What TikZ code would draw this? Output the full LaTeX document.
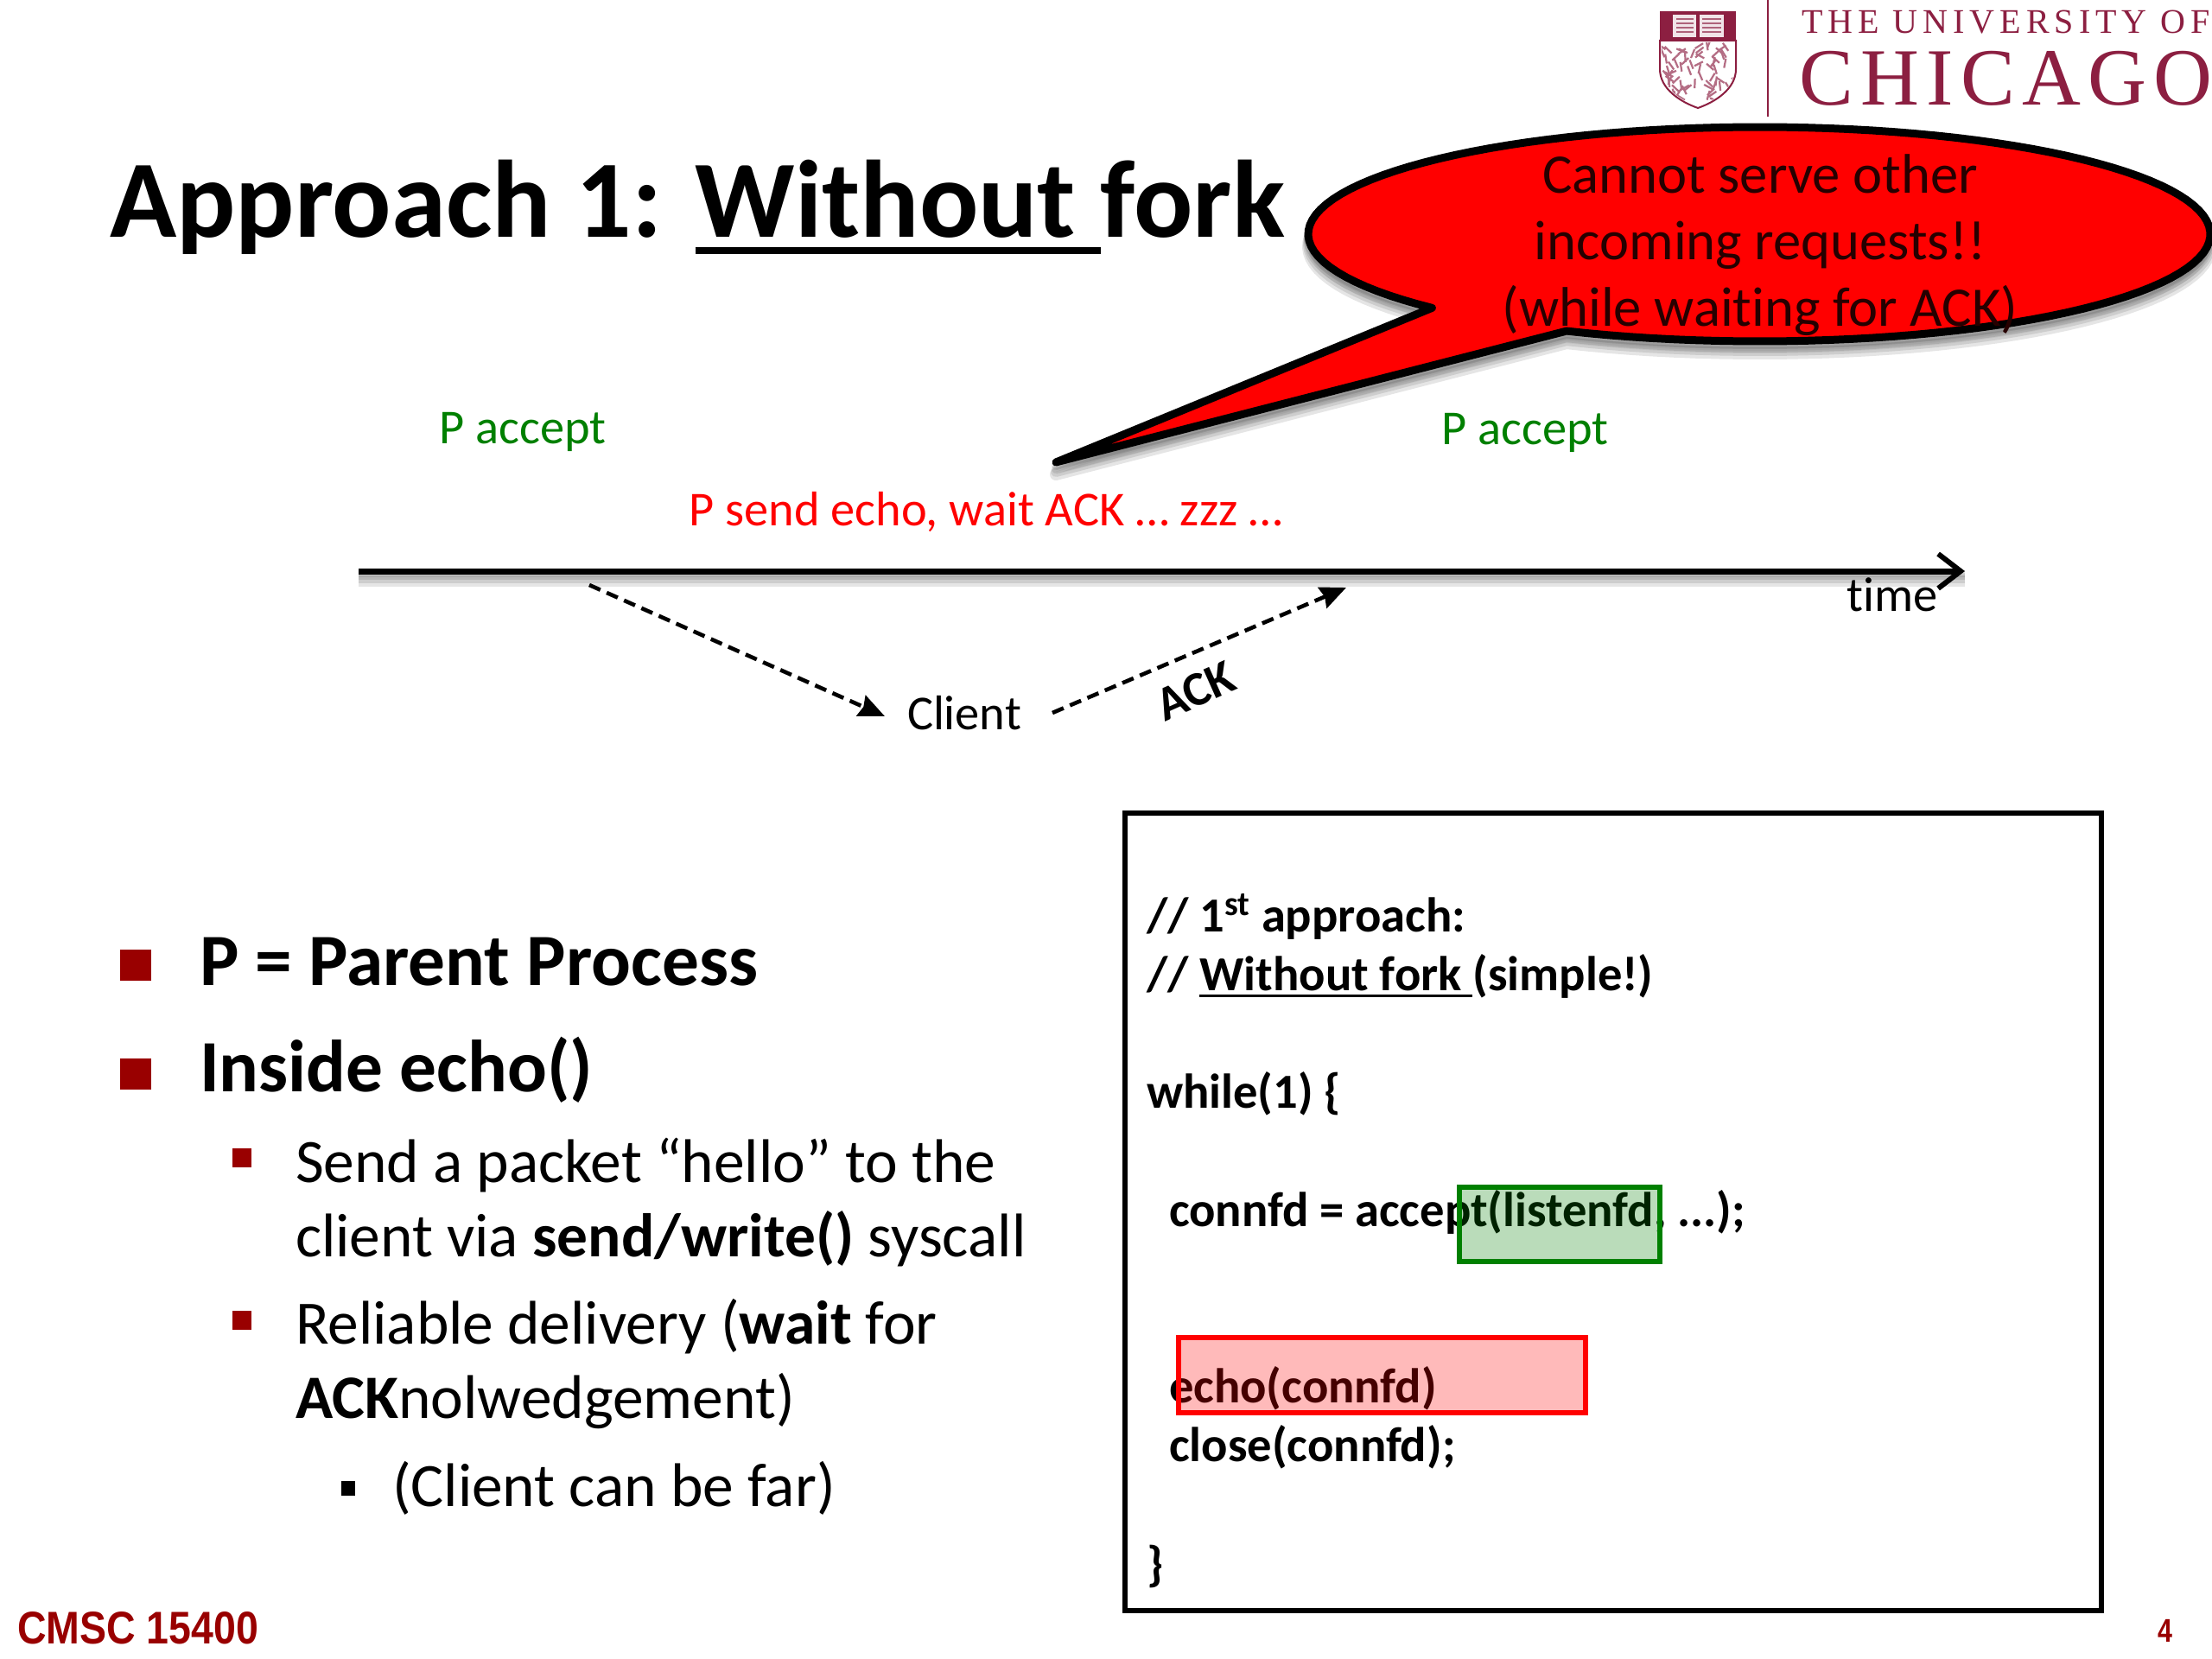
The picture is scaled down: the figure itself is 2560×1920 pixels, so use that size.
\documentclass[tikz,border=0pt]{standalone}
\usepackage{fontspec}
\setmainfont{Carlito}[Ligatures={TeX,NoCommon}]
\newfontfamily\logofont[LetterSpace=15]{Liberation Serif}
\newfontfamily\logobigfont[LetterSpace=9]{Liberation Serif}
\newfontfamily\slidefont{Liberation Sans}
\usetikzlibrary{arrows.meta}
\definecolor{maroonx}{HTML}{8C1F41}
\definecolor{slidered}{HTML}{990000}
\definecolor{okgreen}{HTML}{008000}
\newcommand\ulfix[3]{\leavevmode\setbox0\hbox{#1}\rlap{\rule[#2]{\wd0}{#3}}\box0\relax}
\tikzset{
  txt/.style={anchor=base west,inner sep=0pt,outer sep=0pt},
  ctr/.style={anchor=base,inner sep=0pt,outer sep=0pt},
  titletxt/.style={txt,font=\fontsize{63.7}{68}\selectfont\bfseries},
  maintxt/.style={txt,font=\fontsize{42.7}{48}\selectfont\bfseries},
  subtxt/.style={txt,font=\fontsize{35.7}{42}\selectfont},
  codetxt/.style={txt,font=\fontsize{28.3}{32}\selectfont\bfseries},
  tltxt/.style={ctr,font=\fontsize{28.2}{32}\selectfont},
  calltxt/.style={ctr,font=\fontsize{32.3}{36}\selectfont,text=black!85!red},
  dashline/.style={line width=2.3pt,dash pattern=on 7pt off 4pt,-{Stealth[length=15pt,width=13pt,inset=1.5pt]}},
  shadowstroke/.style={black,opacity=.10},
}
\begin{document}
\begin{tikzpicture}[x=0.5pt,y=-0.5pt]
\path[use as bounding box] (0,0) rectangle (2560,1920);
\clip (0,0) rectangle (2560,1920);
\fill[white] (0,0) rectangle (2560,1920);

% --- logo ---
\fill[maroonx] (1921,13) rectangle (2009,47);
\fill[white!88!maroonx] (1936,17) rectangle (1963,43);
\fill[white!88!maroonx] (1967,17) rectangle (1995,43);
\foreach \yy in {22,27,32,37}{
  \draw[maroonx!70,line width=.8pt] (1940,\yy) -- (1960,\yy);
  \draw[maroonx!70,line width=.8pt] (1970,\yy) -- (1992,\yy);
}
\draw[maroonx,line width=1pt,fill=white] (1921,47) -- (2009,47) -- (2009,80)
  .. controls (2009,103) and (1985,118) .. (1965,125)
  .. controls (1945,118) and (1921,103) .. (1921,80) -- cycle;
\begin{scope}
  \clip (1923,49) -- (2007,49) -- (2007,80)
  .. controls (2007,102) and (1985,116) .. (1965,123)
  .. controls (1945,116) and (1923,102) .. (1923,80) -- cycle;
  \pgfmathsetseed{7}
  \foreach \k in {1,...,70}{
    \pgfmathsetmacro\ax{1926+78*rnd}
    \pgfmathsetmacro\ay{54+64*rnd}
    \pgfmathsetmacro\an{200+140*rnd}
    \draw[maroonx!65,line width=1.1pt] (\ax,\ay) -- ++(\an:11);
  }
\end{scope}
\draw[maroonx,line width=1pt] (2046,0) -- (2046,135);
\node[txt,text=maroonx,font=\fontsize{20}{24}\logofont] (logoa) at (2085,39) {THE UNIVERSITY OF};
\node[txt,text=maroonx,font=\fontsize{47}{50}\logobigfont] (logob) at (2082,122) {CHICAGO};

% --- title ---
\node[titletxt] (title) at (127,275) {Approach 1: \ulfix{Without\ }{-9.5pt}{4pt}fork};

% --- timeline labels ---
\node[tltxt,text=okgreen] (pa) at (605,514) {P accept};
\node[tltxt,text=okgreen] (pb) at (1765,515) {P accept};
\node[tltxt,text=red] (psend) at (1141,608) {P send echo, wait ACK … zzz …};

% --- timeline ---
\coordinate (tls) at (415,661);
\coordinate (tle) at (2274,661);
\foreach \o/\w in {3/3.5,6/4,9/5,12/6}{
  \draw[shadowstroke,line width=\w pt] ([yshift=-\o*.5pt]tls) -- ([yshift=-\o*.5pt]tle);
}
\draw[line width=3.5pt,-{Straight Barb[length=13pt,width=20pt,line width=3pt]}] (tls) -- (tle);
\node[tltxt] (time) at (2190,707) {time};

% --- client messages ---
\node[tltxt] (client) at (1116,844) {Client};
\coordinate (d1s) at (682,677);
\coordinate (d1e) at (1024,829);
\coordinate (d2s) at (1218,825);
\coordinate (d2e) at (1558,680);
\draw[dashline] (d1s) -- (d1e);
\draw[dashline] (d2s) -- (d2e);
\node[ctr,rotate=24,font=\fontsize{28}{32}\selectfont\bfseries] (ack) at (1391,816) {ACK};

% --- callout ---
\foreach \o/\w in {4/5,8/5,11/6,14/7}{
  \begin{scope}[yshift=-\o*.5pt]
  \draw[shadowstroke,line width=\w pt,line join=round,fill=black,fill opacity=.05]
    plot[domain=136.5:475.3,samples=120] ({2036+522*cos(\x)},{271+124*sin(\x)}) -- (1222,535) -- cycle;
  \end{scope}
}
\draw[fill=red,line width=4.5pt,line join=round]
  plot[domain=136.5:475.3,samples=120] ({2036+522*cos(\x)},{271+124*sin(\x)}) -- (1222,535) -- cycle;
\node[calltxt] (calla) at (2037,224) {Cannot serve other};
\node[calltxt] (callb) at (2037,301) {incoming requests!!};
\node[calltxt] (callc) at (2037,378) {(while waiting for ACK)};

% --- bullets ---
\fill[slidered] (139,1099) rectangle (175,1135);
\fill[slidered] (139,1225) rectangle (175,1261);
\node[maintxt] (m1) at (231,1140) {P = Parent Process};
\node[maintxt] (m2) at (231,1263) {Inside echo()};
\fill[slidered] (269,1329) rectangle (291,1351);
\fill[slidered] (269,1517) rectangle (291,1539);
\node[subtxt] (s1) at (342,1368) {Send a packet “hello” to the};
\node[subtxt] (s2) at (342,1454) {client via \textbf{send/write()} syscall};
\node[subtxt] (s3) at (342,1555) {Reliable delivery (\textbf{wait} for};
\node[subtxt] (s4) at (342,1641) {\textbf{ACK}nolwedgement)};
\fill[black] (395,1714) rectangle (411,1731);
\node[subtxt] (s5) at (454,1743) {(Client can be far)};

% --- footer ---
\node[txt,text=slidered,font=\fontsize{26.5}{30}\slidefont\bfseries] (cmsc) at (20,1902) {\scalebox{.877}[1]{CMSC 15400}};
\node[txt,text=slidered,font=\fontsize{19}{22}\slidefont\bfseries] (pagen) at (2497,1900) {\scalebox{.8}[1]{4}};

% --- code box ---
\draw[line width=3.2pt] (1302,941) rectangle (2432,1864);
\node[codetxt] (c1) at (1327,1078) {// 1\textsuperscript{st} approach:};
\node[codetxt] (c2) at (1327,1146) {// \ulfix{Without fork\ }{-4pt}{1.3pt}(simple!)};
\node[codetxt] (c3) at (1327,1282) {while(1) \{};
\node[codetxt] (c4) at (1353,1419) {connfd = accept(listenfd, ...);};
\node[codetxt] (c5) at (1353,1623) {echo(connfd)};
\node[codetxt] (c6) at (1353,1691) {close(connfd);};
\node[codetxt] (c7) at (1327,1829) {\}};
\draw[okgreen,line width=3.2pt,fill=okgreen,fill opacity=.27] (1689,1374) rectangle (1921,1460);
\draw[red,line width=3.2pt,fill=red,fill opacity=.27] (1364,1548) rectangle (1835,1635);
\end{tikzpicture}
\end{document}
